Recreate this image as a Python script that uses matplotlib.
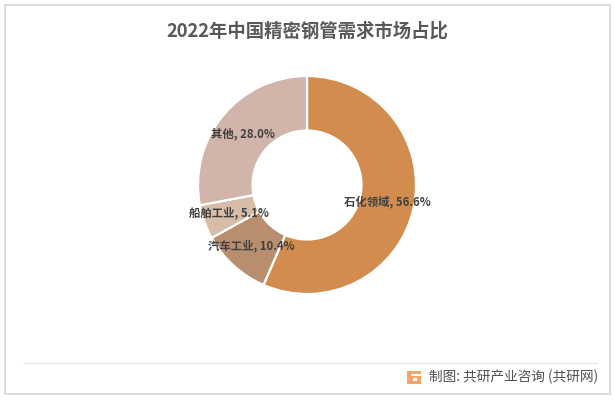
import matplotlib
matplotlib.use('Agg')
import matplotlib.pyplot as plt
from matplotlib.patches import Rectangle, Polygon

plt.rcParams['font.family'] = ['Noto Sans CJK SC', 'DejaVu Sans']

# Data.
categories = ['石化领域', '汽车工业', '船舶工业', '其他']
shares = [56.6, 10.4, 5.1, 28.0]
colors = ['#D28C4E', '#B98E6E', '#D7BCA8', '#D1B4AA']
title = '2022年中国精密钢管需求市场占比'
source = '制图: 共研产业咨询 (共研网)'

W, H = 614, 401
fig = plt.figure(figsize=(W / 100, H / 100), dpi=100, facecolor='white')

# Overlay in pixel coordinates for the frame, title and footer.
bg = fig.add_axes([0, 0, 1, 1])
bg.set_xlim(0, W)
bg.set_ylim(H, 0)
bg.axis('off')
bg.add_patch(Rectangle((4.5, 4.5), 605, 389.5, fill=False, ec='#D6D6D6', lw=1.2))
bg.plot([24, 597], [362.5, 362.5], color='#E6E6E6', lw=0.8)
bg.text(307, 31.5, title, ha='center', va='center', fontsize=13.2,
        fontweight='bold', color='#595959')
bg.text(429, 377, source, ha='left', va='center', fontsize=9.85, color='#505050')

# Small orange logo next to the source line.
bg.add_patch(Rectangle((407, 371), 13.5, 13, fc='#F4A66A', ec='none'))
bg.add_patch(Polygon([(411, 374), (420.5, 374), (420.5, 375.5), (411, 375.5)], fc='white'))
bg.add_patch(Polygon([(413, 378), (417, 378), (417, 381), (413, 381)], fc='white'))

# Donut.
cx, cy, r = 307, 185, 109
ax = fig.add_axes([(cx - r) / W, 1 - (cy + r) / H, 2 * r / W, 2 * r / H])
wedges, _ = ax.pie(shares, colors=colors, startangle=90, counterclock=False,
                   radius=1, wedgeprops=dict(width=0.5, edgecolor='white', linewidth=1.6))
ax.set_xlim(-1, 1)
ax.set_ylim(-1, 1)

# Labels sit at fixed spots over the ring.
label_pos = [(387, 201.5), (251, 246), (229, 212.5), (243, 133.5)]
for name, val, (x, y) in zip(categories, shares, label_pos):
    fig.text(x / W, 1 - y / H, f'{name}, {val:.1f}%', ha='center', va='center',
             fontsize=8.2, fontweight='bold', color='#404040')

fig.savefig('out.png', dpi=100)
